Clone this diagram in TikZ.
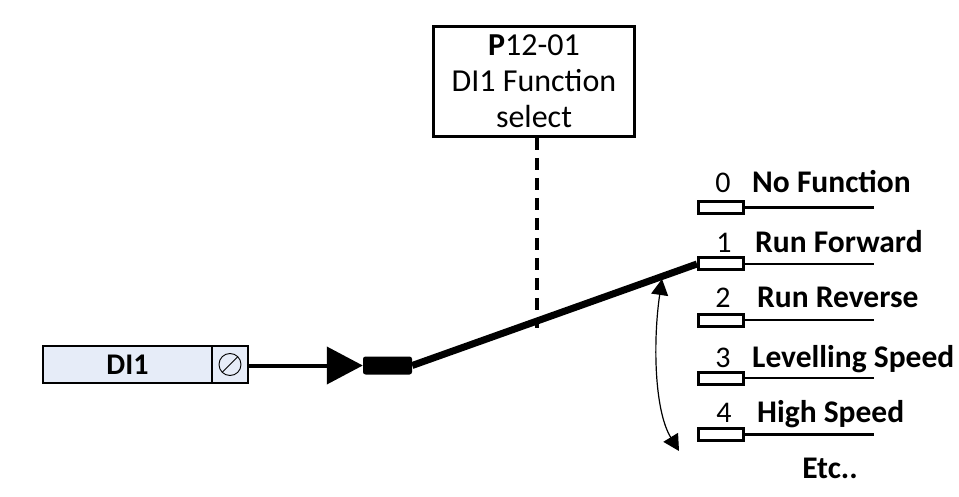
\documentclass[tikz,border=0pt]{standalone}
\usepackage{fontspec}
\setmainfont{Carlito}
\usetikzlibrary{arrows.meta,calc}
\definecolor{dibg}{HTML}{E6ECF8}
\tikzset{
  contact/.style={draw, line width=3pt, minimum width=45pt, minimum height=12pt, inner sep=0pt},
  numlbl/.style={font=\fontsize{30}{30}\selectfont, inner sep=0pt, anchor=base},
  fnlbl/.style={font=\bfseries\fontsize{31.5}{31.5}\selectfont, inner sep=0pt, anchor=base west},
  lead/.style={line width=2.2pt},
}
\begin{document}
\begin{tikzpicture}[x=1pt,y=-1pt]
\useasboundingbox (0,0) rectangle (959,497);
% parameter box
\node[draw, line width=3pt, minimum width=201pt, minimum height=110pt, inner sep=0pt,
      align=center, font=\fontsize{32}{36}\selectfont] (par) at (534,81.5)
  {\textbf{P}12-01\\DI1 Function\\select};
% DI1 terminal
\node[draw, line width=1.4pt, fill=dibg, minimum width=169pt, minimum height=37pt, inner sep=0pt,
      font=\bfseries\fontsize{30}{30}\selectfont] (di1) at (127.5,364.5) {DI1};
\node[draw, line width=1.4pt, fill=dibg, minimum width=36pt, minimum height=37pt, inner sep=0pt] (scr) at (230,364.5) {};
\draw[line width=0.9pt] (scr.center) circle (11pt);
\draw[line width=0.9pt] ($(scr.center)+(7.8,-7.8)$) -- ($(scr.center)+(-7.8,7.8)$);
% switch body
\node[fill=black, rounded corners=2.5pt, minimum width=49pt, minimum height=18pt, inner sep=0pt] (sw) at (387.5,365.5) {};
\draw[line width=4pt, -{Triangle[length=36pt,width=37pt]}] (scr.east |- sw.west) -- (sw.west);
% contacts
\foreach \i/\y/\lbl/\lx/\dy/\nx in {0/207.5/No Function/752/14.5/723, 1/264/Run Forward/755/11.5/724, 2/320/Run Reverse/757/12/723, 3/378/Levelling Speed/752/11/723, 4/434.5/High Speed/757/12.5/724}{
  \node[contact] (c\i) at (721,\y) {};
  \coordinate (e\i) at (874,\y);
  \draw[lead] (c\i.east) -- (e\i);
  \node[numlbl] (n\i) at (\nx,\y-\dy) {\i};
  \node[fnlbl] (f\i) at (\lx,\y-\dy) {\lbl};
}
\node[font=\bfseries\fontsize{31.5}{31.5}\selectfont, inner sep=0pt, anchor=base] (etc) at (830,478) {Etc..};
% switch blade
\draw[line width=7pt] (sw.east) -- (c1.west);
% dashed link
\coordinate (dend) at (537,328);
\draw[line width=3.5pt, dash pattern=on 12pt off 8pt] (par.south -| dend) -- (dend);
% selection arrow
\coordinate (atop) at (662,279);
\coordinate (abot) at (679,451);
\draw[line width=1.2pt, {Triangle[length=16pt,width=17pt]}-{Triangle[length=16pt,width=17pt]}]
  (atop) .. controls (653,340) and (654,410) .. (abot);
\end{tikzpicture}
\end{document}
